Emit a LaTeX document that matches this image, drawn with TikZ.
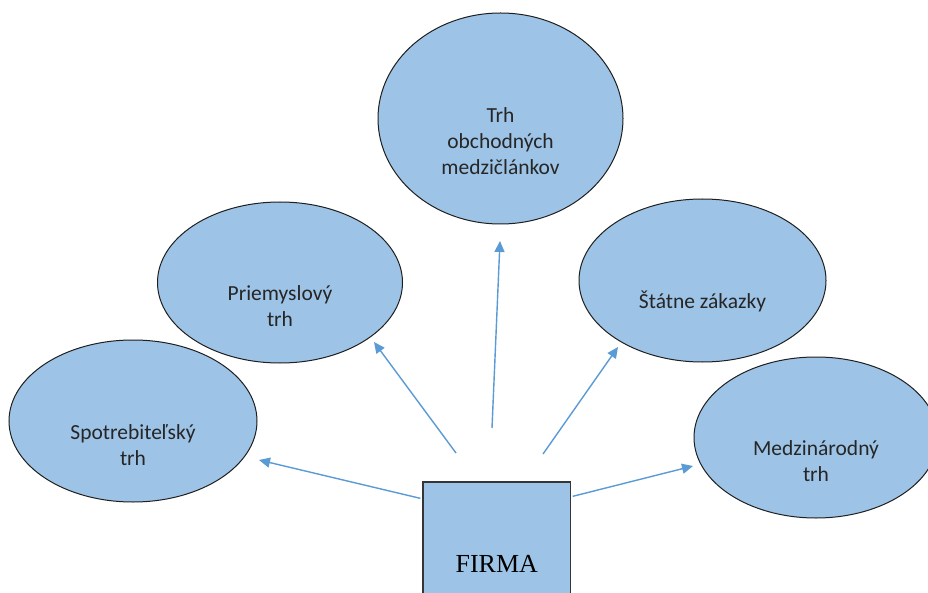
\documentclass[tikz,border=0pt]{standalone}
\usepackage{fontspec}
\setmainfont{Carlito}
\newfontfamily\firmafont{Liberation Serif}
\usetikzlibrary{arrows.meta,shapes.geometric,calc}

\definecolor{bubblefill}{HTML}{9DC3E6}
\definecolor{arrowblue}{HTML}{5B9BD5}
\definecolor{edgegray}{HTML}{1F1F1F}

\tikzset{
  market/.style={ellipse, draw=edgegray, line width=1pt, fill=bubblefill, inner sep=0pt},
  marketlabel/.style={align=center, inner sep=0pt, text=black!85,
    font=\fontsize{21.5}{26}\selectfont},
  firmbox/.style={rectangle, draw=edgegray!90, line width=1.3pt, fill=bubblefill, inner sep=0pt},
  link/.style={draw=arrowblue, line width=1.4pt,
    -{Triangle[length=11pt,width=10pt]}}
}

\begin{document}
\begin{tikzpicture}[x=1pt,y=-1pt]
  \clip (0,0) rectangle (928,593);
  \fill[white] (0,0) rectangle (928,593);

  % market bubbles
  \node[market, minimum width=248pt, minimum height=162pt] (spot) at (133,421) {};
  \node[market, minimum width=245pt, minimum height=161pt] (prim) at (280,282.5) {};
  \node[market, minimum width=245pt, minimum height=211pt] (obch) at (500.5,118.5) {};
  \node[market, minimum width=247pt, minimum height=163pt] (stat) at (702.5,280.5) {};
  \node[market, minimum width=244pt, minimum height=161pt] (medz) at (816,437.5) {};

  % bubble captions, set a little below each centre
  \node[marketlabel] (spottext) at ($(spot.center)+(0,24)$) {Spotrebiteľský\\trh};
  \node[marketlabel] (primtext) at ($(prim.center)+(0,24)$) {Priemyslový\\trh};
  \node[marketlabel] (obchtext) at ($(obch.center)+(0,23)$) {Trh\\obchodných\\medzičlánkov};
  \node[marketlabel] (stattext) at ($(stat.center)+(0,21)$) {Štátne zákazky};
  \node[marketlabel] (medztext) at ($(medz.center)+(0,24)$) {Medzinárodný\\trh};

  % the firm
  \node[firmbox, minimum width=147.5pt, minimum height=163pt] (firma) at (496.75,563.5)
    {\firmafont\fontsize{26}{30}\selectfont FIRMA};

  % arrow start and tip points
  \coordinate (s1) at ($(firma.north west)+(-2,17)$);
  \coordinate (s2) at (456,453);
  \coordinate (s3) at (492,428);
  \coordinate (s4) at (543,454);
  \coordinate (s5) at ($(firma.north east)+(1.5,15)$);
  \coordinate (t1) at (259,460);
  \coordinate (t2) at (374,342);
  \coordinate (t3) at (500,241);
  \coordinate (t4) at (618,347);
  \coordinate (t5) at (693,466);

  \draw[link] (s1) -- (t1);
  \draw[link] (s2) -- (t2);
  \draw[link] (s3) -- (t3);
  \draw[link] (s4) -- (t4);
  \draw[link] (s5) -- (t5);
\end{tikzpicture}
\end{document}
